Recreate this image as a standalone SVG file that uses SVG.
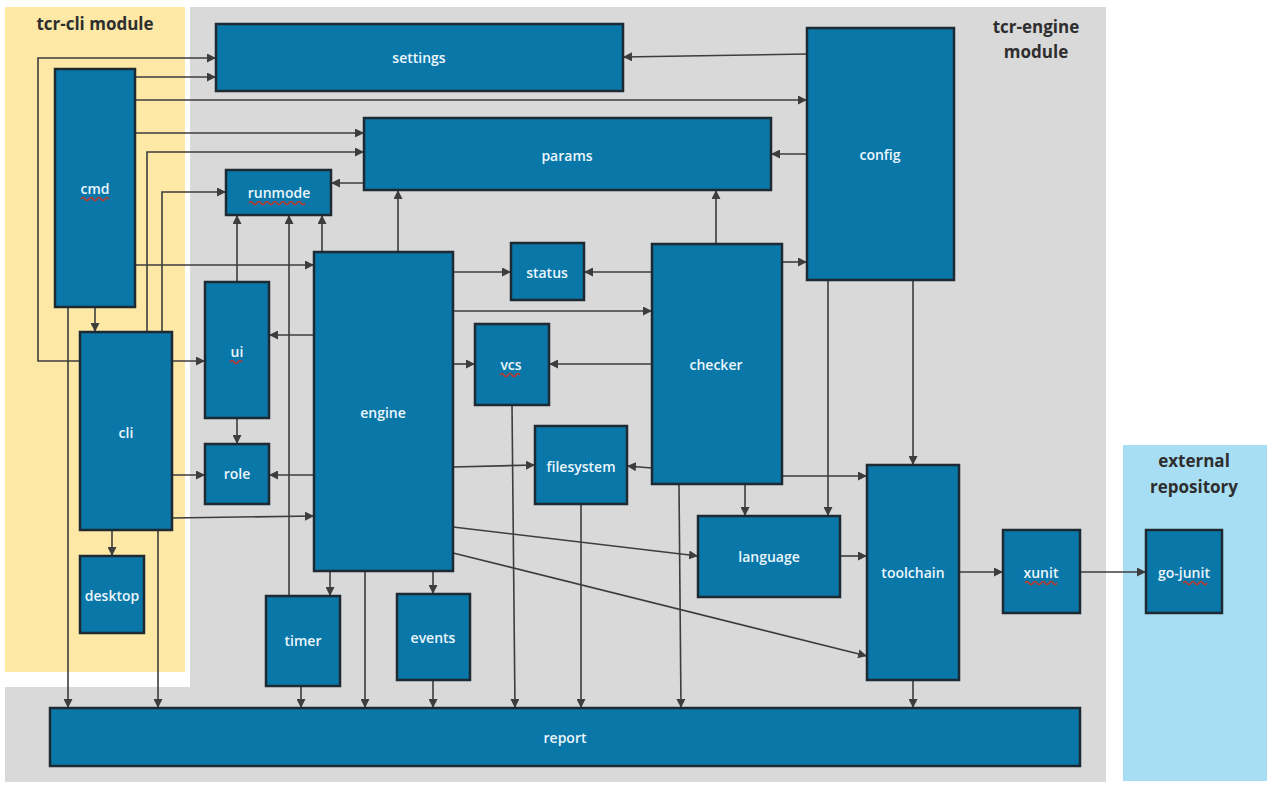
<svg xmlns="http://www.w3.org/2000/svg" width="1280" height="791" viewBox="0 0 1280 791">
<defs>
<style>
.node rect{fill:#0a77a9;stroke:#1d2a33;stroke-width:2.5}
.node text{fill:#eaf6fc;font-family:"Open Sans","Liberation Sans",sans-serif;font-weight:600;font-size:14px;text-anchor:middle;dominant-baseline:central}
.hdr{fill:#2e2e2e;font-family:"Open Sans","Liberation Sans",sans-serif;font-weight:700;font-size:17px;text-anchor:middle}
.sq{fill:none;stroke:#c0392b;stroke-width:1.5}
#connectors path{fill:none;stroke:#3d3d3d;stroke-width:1.6;marker-end:url(#arr)}
</style>
<marker id="arr" viewBox="0 0 10 10" refX="10" refY="5" markerWidth="9" markerHeight="9" markerUnits="userSpaceOnUse" orient="auto">
<path d="M0,0 L10,5 L0,10 z" fill="#3d3d3d"/>
</marker>
</defs>
<rect width="1280" height="791" fill="#ffffff"/>
<g id="regions">
<rect x="5" y="7" width="180" height="665" fill="#fde8a6"/>
<rect x="190" y="7" width="916" height="775" fill="#d9d9d9"/>
<rect x="5" y="687" width="1101" height="95" fill="#d9d9d9"/>
<rect x="1123" y="445" width="144" height="336" fill="#a8def3"/>
<text class="hdr" x="95" y="30">tcr-cli module</text>
<text class="hdr" x="1036" y="33">tcr-engine</text>
<text class="hdr" x="1036" y="58">module</text>
<text class="hdr" x="1194" y="467">external</text>
<text class="hdr" x="1194" y="493">repository</text>
</g>
<g id="connectors">
<path d="M80,361 H38 V58 H216"/>
<path d="M135,77 H216"/>
<path d="M135,100 H807"/>
<path d="M135,133 H364"/>
<path d="M147,332 V152 H364"/>
<path d="M162,332 V192 H226"/>
<path d="M364,183 H331"/>
<path d="M135,265 H314"/>
<path d="M322,252 V215"/>
<path d="M237,282 V215"/>
<path d="M289,596 V215"/>
<path d="M398,252 V190"/>
<path d="M716,244 V190"/>
<path d="M807,154 H771"/>
<path d="M807,54 L623,57"/>
<path d="M782,262 H807"/>
<path d="M453,272 H511"/>
<path d="M652,272 H584"/>
<path d="M453,311 H652"/>
<path d="M314,335 H269"/>
<path d="M453,364 H475"/>
<path d="M652,364 H549"/>
<path d="M95,307 V332"/>
<path d="M172,361 H205"/>
<path d="M237,418 V444"/>
<path d="M172,475 H205"/>
<path d="M314,475 H269"/>
<path d="M453,467 L535,465"/>
<path d="M652,468 L627,466"/>
<path d="M172,518 L314,516"/>
<path d="M112,530 V556"/>
<path d="M745,484 V516"/>
<path d="M828,280 V516"/>
<path d="M913,280 V465"/>
<path d="M782,476 H867"/>
<path d="M453,527 L698,556"/>
<path d="M453,553 L867,656"/>
<path d="M840,556 H867"/>
<path d="M959,572 L1003,572"/>
<path d="M1080,572 H1146"/>
<path d="M913,680 V708"/>
<path d="M679,484 L681,708"/>
<path d="M512,405 L515,708"/>
<path d="M581,504 V708"/>
<path d="M365,571 V708"/>
<path d="M330,571 V596"/>
<path d="M433,571 V594"/>
<path d="M433,680 V708"/>
<path d="M301,686 V708"/>
<path d="M68,307 V708"/>
<path d="M158,530 V708"/>
</g>
<g id="settings" class="node"><rect x="216" y="24" width="407" height="67"/><text x="419" y="57">settings</text></g>
<g id="config" class="node"><rect x="807" y="28" width="147" height="252"/><text x="880" y="154">config</text></g>
<g id="params" class="node"><rect x="364" y="118" width="407" height="72"/><text x="567" y="155">params</text></g>
<g id="runmode" class="node"><rect x="226" y="170" width="105" height="45"/><text x="279" y="192">runmode</text><path class="sq" d="M249,203 q2,-3 4,0 t4,0 t4,0 t4,0 t4,0 t4,0 t4,0 t4,0 t4,0 t4,0 t4,0 t4,0 t4,0 t4,0"/></g>
<g id="cmd" class="node"><rect x="55" y="69" width="80" height="238"/><text x="95" y="188">cmd</text><path class="sq" d="M81,199 q2,-3 4,0 t4,0 t4,0 t4,0 t4,0 t4,0 t4,0"/></g>
<g id="status" class="node"><rect x="511" y="243" width="73" height="57"/><text x="547" y="272">status</text></g>
<g id="engine" class="node"><rect x="314" y="252" width="139" height="319"/><text x="383" y="412">engine</text></g>
<g id="checker" class="node"><rect x="652" y="244" width="130" height="240"/><text x="716" y="364">checker</text></g>
<g id="ui" class="node"><rect x="205" y="282" width="64" height="136"/><text x="237" y="351">ui</text><path class="sq" d="M230,362 q2,-3 4,0 t4,0 t4,0"/></g>
<g id="vcs" class="node"><rect x="475" y="324" width="74" height="81"/><text x="511" y="364">vcs</text><path class="sq" d="M500,375 q2,-3 4,0 t4,0 t4,0 t4,0 t4,0"/></g>
<g id="cli" class="node"><rect x="80" y="332" width="92" height="198"/><text x="126" y="432">cli</text></g>
<g id="role" class="node"><rect x="205" y="444" width="64" height="60"/><text x="237" y="473">role</text></g>
<g id="filesystem" class="node"><rect x="535" y="426" width="92" height="78"/><text x="581" y="466">filesystem</text></g>
<g id="language" class="node"><rect x="698" y="516" width="142" height="81"/><text x="769" y="556">language</text></g>
<g id="toolchain" class="node"><rect x="867" y="465" width="92" height="215"/><text x="913" y="572">toolchain</text></g>
<g id="xunit" class="node"><rect x="1003" y="530" width="77" height="83"/><text x="1041" y="572">xunit</text><path class="sq" d="M1025,583 q2,-3 4,0 t4,0 t4,0 t4,0 t4,0 t4,0 t4,0 t4,0"/></g>
<g id="go-junit" class="node"><rect x="1146" y="530" width="76" height="83"/><text x="1184" y="572">go-junit</text><path class="sq" d="M1183,583 q2,-3 4,0 t4,0 t4,0 t4,0 t4,0 t4,0"/></g>
<g id="desktop" class="node"><rect x="80" y="556" width="64" height="77"/><text x="112" y="595">desktop</text></g>
<g id="timer" class="node"><rect x="266" y="596" width="74" height="90"/><text x="303" y="640">timer</text></g>
<g id="events" class="node"><rect x="397" y="594" width="73" height="86"/><text x="433" y="637">events</text></g>
<g id="report" class="node"><rect x="50" y="708" width="1030" height="58"/><text x="565" y="737">report</text></g>
</svg>
